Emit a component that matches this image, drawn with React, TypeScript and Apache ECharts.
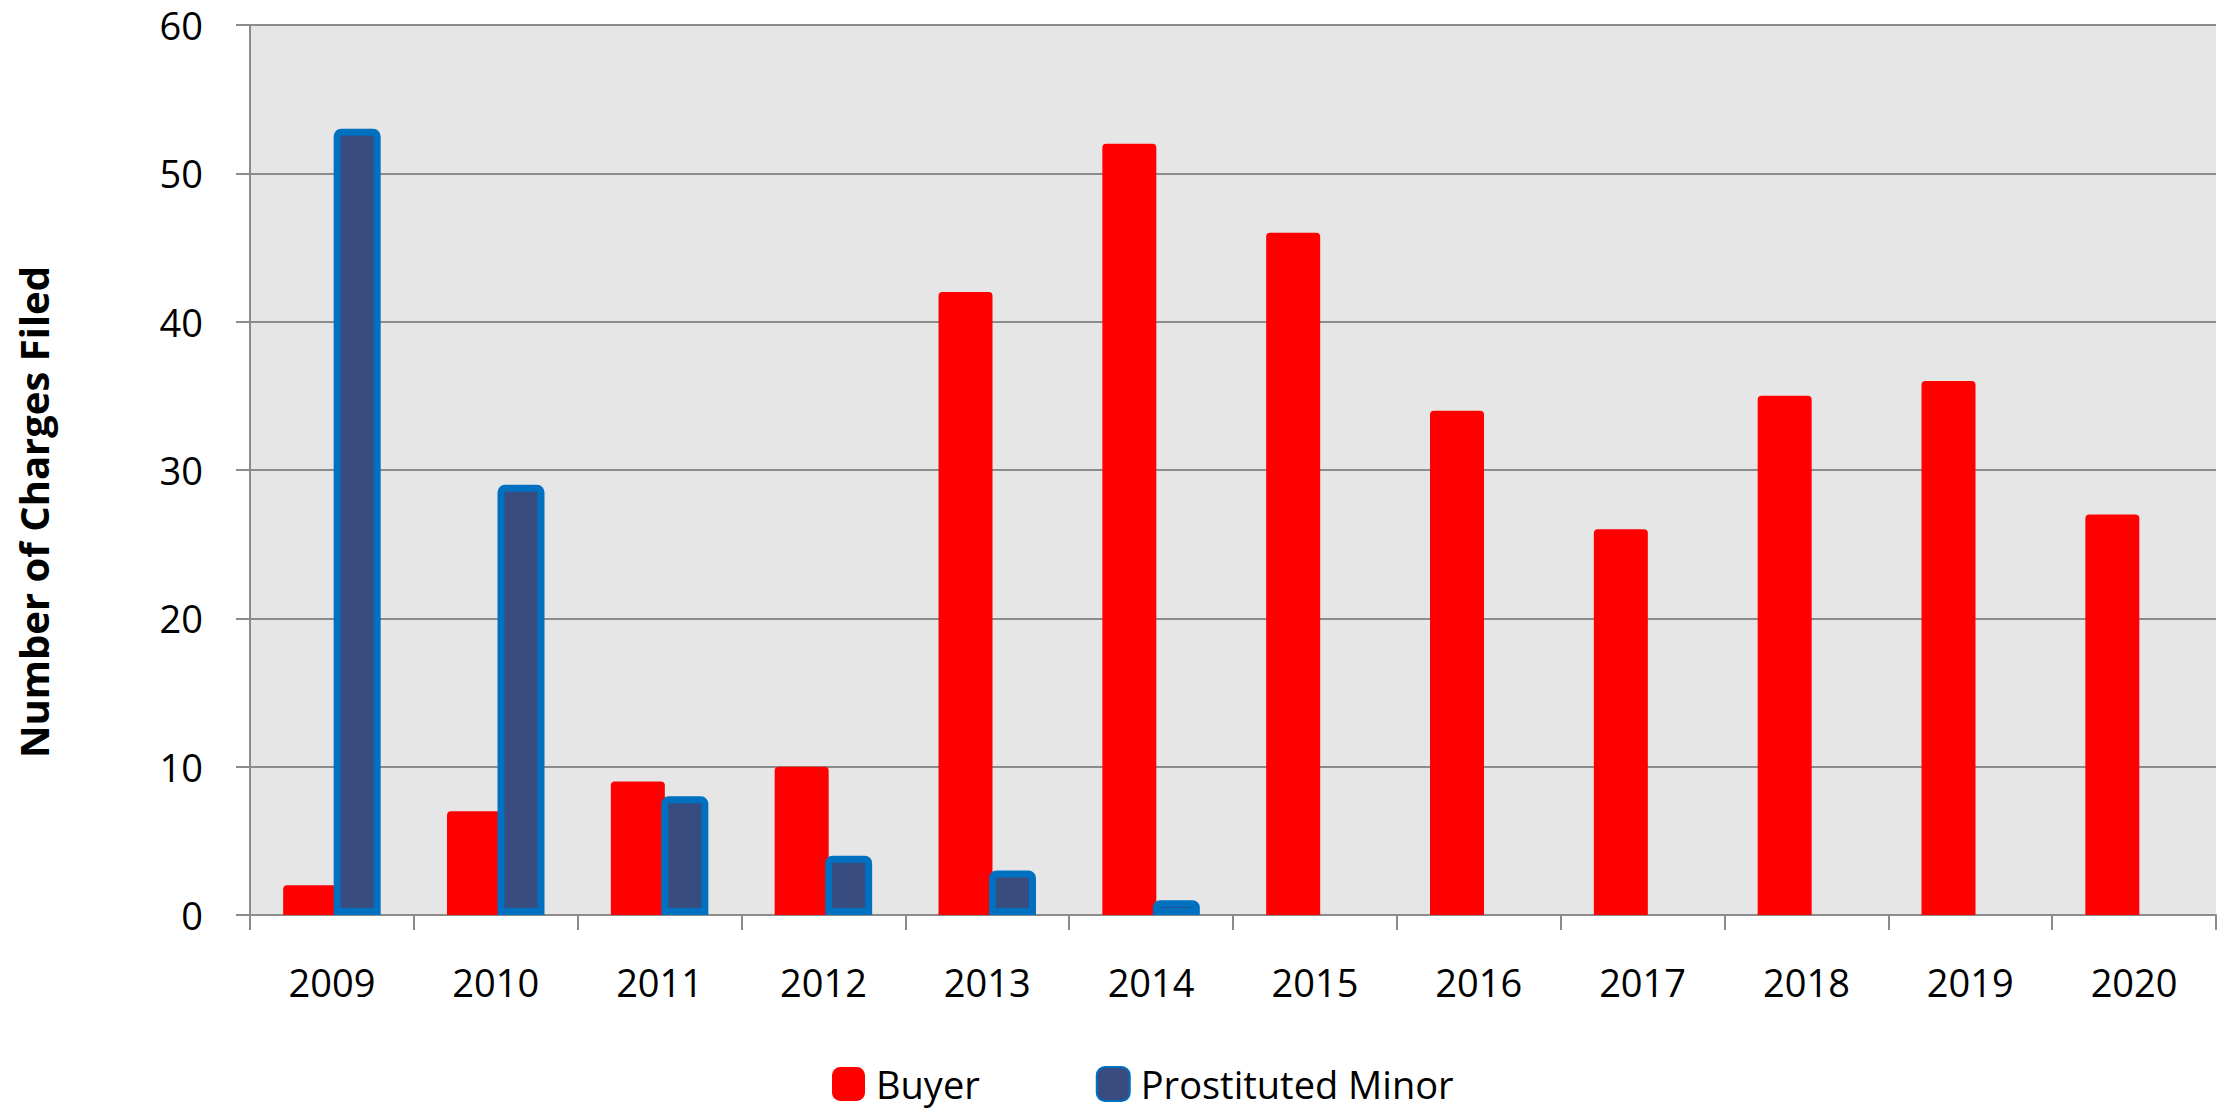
import React, { useEffect, useRef } from "react";
import * as echarts from "echarts";

const years = ["2009", "2010", "2011", "2012", "2013", "2014", "2015", "2016", "2017", "2018", "2019", "2020"];
const buyer = [2, 7, 9, 10, 42, 52, 46, 34, 26, 35, 36, 27];
const minor: (number | null)[] = [53, 29, 8, 4, 3, 1, null, null, null, null, null, null];
const yTicks = { min: 0, max: 60, interval: 10 };
const yTitle = "Number of Charges Filed";

const FONT = "'Open Sans', 'Noto Sans', sans-serif";

export default function App() {
  const ref = useRef<HTMLDivElement>(null);
  useEffect(() => {
    if (!ref.current) return;
    const chart = echarts.init(ref.current, undefined, { renderer: "svg" });
    const gray = "#8C8C8C";
    chart.setOption({
      animation: false,
      backgroundColor: "#FFFFFF",
      textStyle: { fontFamily: FONT },
      grid: {
        left: 250,
        right: 4,
        top: 25,
        bottom: 194,
        show: true,
        backgroundColor: "#E6E6E6",
        borderWidth: 0,
        containLabel: false,
      },
      legend: {
        left: 832,
        top: 1064,
        padding: 0,
        itemWidth: 33,
        itemHeight: 34,
        itemGap: 116,
        textStyle: {
          fontSize: 38,
          lineHeight: 40,
          color: "#000",
          fontFamily: FONT,
          padding: [0, 0, 0, 6],
        },
        data: ["Buyer", "Prostituted Minor"],
      },
      graphic: [
        {
          type: "text",
          x: 33,
          y: 512,
          rotation: Math.PI / 2,
          style: {
            text: yTitle,
            fontSize: 40,
            fontWeight: "bold",
            fontFamily: FONT,
            fill: "#000",
            align: "center",
            verticalAlign: "middle",
          },
        },
      ],
      xAxis: {
        type: "category",
        data: years,
        boundaryGap: true,
        axisLine: { show: true, lineStyle: { color: gray, width: 2 } },
        axisTick: { show: true, length: 15, inside: false, lineStyle: { color: gray, width: 2 } },
        axisLabel: { color: "#000", fontSize: 38, margin: 48, fontFamily: FONT },
        splitLine: { show: false },
      },
      yAxis: {
        type: "value",
        min: yTicks.min,
        max: yTicks.max,
        interval: yTicks.interval,
        axisLine: { show: true, lineStyle: { color: gray, width: 2 } },
        axisTick: { show: true, length: 14, lineStyle: { color: gray, width: 2 } },
        axisLabel: { color: "#000", fontSize: 38, margin: 47, fontFamily: FONT },
        splitLine: { show: true, lineStyle: { color: gray, width: 2 } },
      },
      series: [
        {
          name: "Buyer",
          type: "bar",
          data: buyer,
          barWidth: 54,
          barGap: "-6.5%",
          itemStyle: { color: "#FF0000", borderRadius: [4, 4, 0, 0] },
        },
        {
          name: "Prostituted Minor",
          type: "bar",
          data: minor,
          barWidth: 47,
          itemStyle: {
            color: "#384C80",
            borderColor: "#0070C0",
            borderWidth: 7,
            borderRadius: [4, 4, 0, 0],
          },
        },
      ],
    });
    return () => chart.dispose();
  }, []);
  return (
    <div
      ref={ref}
      style={{ position: "fixed", left: 0, top: 0, width: 2220, height: 1109 }}
    />
  );
}
